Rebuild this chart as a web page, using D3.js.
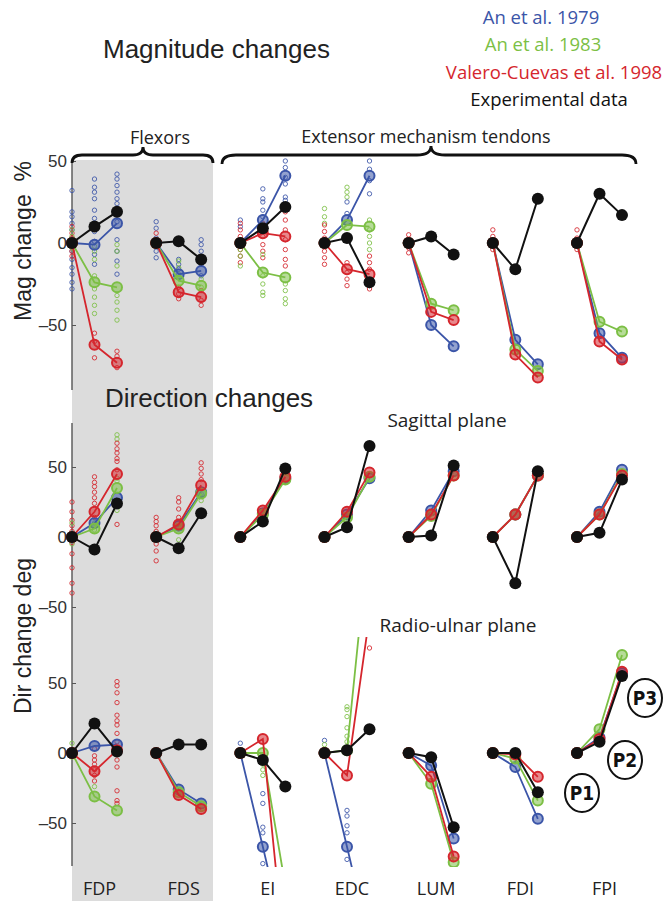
<!DOCTYPE html>
<html>
<head>
<meta charset="utf-8">
<script src="https://cdn.jsdelivr.net/npm/d3@7"></script>
<style>
  body { margin: 0; background: #fff; }
  svg { display: block; }
</style>
</head>
<body>
<svg id="chart" width="663" height="901"></svg>
<script>
// ---- data ----
const muscles = ["FDP", "FDS", "EI", "EDC", "LUM", "FDI", "FPI"];
const positions = ["P1", "P2", "P3"];
const seriesNames = ["An et al. 1979", "An et al. 1983", "Valero-Cuevas et al. 1998", "Experimental data"];
const tickValues = [-50, 0, 50];

// magnitude change (%) at P2, P3 (P1 is the reference = 0)
const magAn1979 = [[-1, 12], [-19, -17], [14, 41], [14, 41], [-50, -63], [-59, -74], [-55, -70]];
const magAn1983 = [[-24, -27], [-23, -26], [-18, -21], [11, 10], [-37, -41], [-65, -78], [-48, -54]];
const magValero = [[-62, -73], [-30, -33], [6, 4], [-16, -19], [-42, -47], [-68, -82], [-60, -71]];
const magExp = [[10, 19], [1, -10], [9, 22], [3, -24], [4, -7], [-16, 27], [30, 17]];

// direction change, sagittal plane (deg)
const sagAn1979 = [[10, 28], [8, 32], [17, 42], [16, 42], [19, 47], [16, 44], [18, 48]];
const sagAn1983 = [[6, 35], [6, 31], [16, 41], [14, 43], [15, 44], [16, 44], [16, 45]];
const sagValero = [[18, 45], [9, 37], [19, 43], [18, 46], [16, 44], [16, 44], [16, 44]];
const sagExp = [[-9, 24], [-8, 17], [11, 49], [7, 65], [1, 51], [-33, 47], [3, 41]];

// direction change, radio-ulnar plane (deg)
const ruAn1979 = [[5, 6], [-26, -36], [-67, -135], [-67, -135], [-9, -61], [-10, -47], [11, 57]];
const ruAn1983 = [[-31, -41], [-28, -38], [0, -95], [2, 160], [-22, -78], [-4, -34], [17, 70]];
const ruValero = [[-13, 2], [-30, -40], [10, -150], [-16, 98], [-17, -74], [-1, -17], [10, 58]];
const ruExp = [[21, 1], [6, 6], [-5, -24], [2, 17], [-3, -53], [0, -28], [8, 55]];

// individual model results: [muscle, position, series, values]
const magScatter = [
  [0, 0, 0, [32, 19, 16, 12, 8, -5, -10, -15, -19, -24, -28]], [0, 0, 2, [10, 6, 3, -2, -5, -8]], [0, 0, 1, [8, 4, -3]],
  [0, 1, 0, [39, 34, 31, 27, 20, 15, 7, 1, -7, -13]], [0, 1, 1, [-2, -5, -10, -20, -28, -33, -38, -43]], [0, 1, 2, [-55, -60, -70]],
  [0, 2, 0, [42, 39, 35, 31, 27, 24, 20, 13, 2, -5, -11, -19]], [0, 2, 1, [-1, -5, -14, -32, -36, -41, -47]], [0, 2, 2, [-66, -69, -76]],
  [1, 0, 0, [13, 9, 3, -5, -9]], [1, 0, 2, [6, 2, -2]],
  [1, 1, 0, [-10, -13, -16]], [1, 1, 1, [-11, -15, -19]], [1, 1, 2, [-27, -31, -34]],
  [1, 2, 0, [2, -1, -5, -9, -13, -20]], [1, 2, 1, [-22, -27]], [1, 2, 2, [-29, -35, -38]],
  [2, 0, 0, [14, 10]], [2, 0, 2, [12, 8, 4, 0, -4, -8, -12]], [2, 0, 1, [-4, -8, -14]],
  [2, 1, 0, [33, 27, 25, 20, 16]], [2, 1, 2, [12, 8, 4, -1, -5, -9]], [2, 1, 1, [-7, -20, -25, -30, -32]],
  [2, 2, 0, [50, 46, 40, 36, 28, 26]], [2, 2, 2, [19, 14, 8, 2, -4, -10, -14]], [2, 2, 1, [-25, -29, -34, -37]],
  [3, 0, 1, [21, 16, 12]], [3, 0, 2, [11, 7, 3, -1, -5, -9, -13]],
  [3, 1, 1, [34, 31, 28]], [3, 1, 0, [25, 18]], [3, 1, 2, [-12, -18, -22, -26]],
  [3, 2, 0, [50, 45, 38, 30]], [3, 2, 1, [14, 8, 4, 0, -4]], [3, 2, 2, [-8, -12, -16, -26, -28]],
  [4, 0, 2, [5, -3, -6]], [5, 0, 2, [8, 4, -4]], [6, 0, 2, [8, 3, -4]]
];
const sagScatter = [
  [0, 0, 2, [25, 18, 12, 8, 4, -4, -12, -22, -33, -40]], [0, 0, 1, [10, -5]],
  [0, 1, 2, [43, 39, 36, 32, 28, 24, 14]], [0, 1, 1, [10, 5]],
  [0, 2, 1, [73, 70, 42, 40, 19]], [0, 2, 2, [67, 63, 60, 56, 54, 48, 9]],
  [1, 0, 2, [14, 11, 8, 4, -5, -10, -17]], [1, 1, 2, [28, 25, 20, 14]], [1, 1, 1, [-2]],
  [1, 2, 2, [53, 49, 45, 41]], [1, 2, 1, [31, 26]]
];
const ruScatter = [
  [0, 0, 1, [7, -3]], [0, 1, 2, [3, -2, -5, -8, -12, -16, -20]], [0, 1, 1, [-24]],
  [0, 2, 2, [51, 48, 43, 36, 27, 23, 20, 14, 8, -1, -5, -10, -27, -34, -36]],
  [2, 0, 0, [7]], [2, 1, 0, [-29, -36, -53, -57, -79]], [2, 1, 1, [-8, -12, -16]],
  [3, 0, 0, [9]], [3, 0, 1, [6]], [3, 1, 1, [33, 31, 26, 18, 12, 8]],
  [3, 1, 0, [-41, -45, -52, -57, -76]], [3, 2, 2, [75]]
];

// ---- layout ----
const colors = ["#3b55a8", "#7cbf45", "#d5262d", "#111111"];
const sans = "'Open Sans', sans-serif";
const helv = "'Liberation Sans', Arial, sans-serif";

const svg = d3.select('#chart');

const xMuscle = d3.scalePoint().domain(muscles).range([72, 577]);
const xStep = d3.scalePoint().domain(positions).range([0, 45]);
const px = (m, p) => xMuscle(muscles[m]) + xStep(positions[p]);

// grey band behind the flexors
svg.append('rect')
    .attr('x', 72).attr('y', 160)
    .attr('width', 141).attr('height', 741)
    .attr('fill', '#dcdcdc');

const panels = [
    { id: 'mag', y: d3.scaleLinear().domain([-50, 50]).range([325, 161]),
      series: [magAn1979, magAn1983, magValero, magExp], scatter: magScatter,
      axis: [160, 390], clip: [140, 400] },
    { id: 'sag', y: d3.scaleLinear().domain([-50, 50]).range([607, 467]),
      series: [sagAn1979, sagAn1983, sagValero, sagExp], scatter: sagScatter,
      axis: [423, 621], clip: [420, 625] },
    { id: 'ru', y: d3.scaleLinear().domain([-50, 50]).range([823, 683]),
      series: [ruAn1979, ruAn1983, ruValero, ruExp], scatter: ruScatter,
      axis: [621, 866], clip: [637, 867] }
];

const defs = svg.append('defs');

panels.forEach(panel => {
    const y = panel.y;
    const g = svg.append('g').attr('class', panel.id);

    // y axis
    g.append('line')
        .attr('x1', 72).attr('x2', 72)
        .attr('y1', panel.axis[0]).attr('y2', panel.axis[1])
        .attr('stroke', '#555').attr('stroke-width', 1.4);

    const axis = d3.axisLeft(y)
        .tickValues(tickValues)
        .tickSizeInner(-4).tickSizeOuter(0).tickPadding(5)
        .tickFormat(d => d < 0 ? '\u2013' + Math.abs(d) : d);
    const ax = g.append('g').attr('transform', 'translate(72,0)').call(axis);
    ax.select('.domain').remove();
    ax.selectAll('line').attr('stroke', '#555');
    ax.selectAll('text')
        .attr('font-family', helv).attr('font-size', 17).attr('fill', '#333');

    defs.append('clipPath').attr('id', 'clip-' + panel.id)
        .append('rect')
        .attr('x', 0).attr('width', 663)
        .attr('y', panel.clip[0]).attr('height', panel.clip[1] - panel.clip[0]);

    const plot = g.append('g').attr('clip-path', 'url(#clip-' + panel.id + ')');

    // individual results as small open circles
    panel.scatter.forEach(([m, p, s, vals]) => {
        plot.selectAll(null)
            .data(vals)
            .enter().append('circle')
            .attr('cx', px(m, p))
            .attr('cy', d => y(d))
            .attr('r', 2.2)
            .attr('fill', 'none')
            .attr('stroke', colors[s])
            .attr('stroke-width', 1)
            .attr('opacity', 0.85);
    });

    const line = d3.line().x(d => d[0]).y(d => d[1]);

    panel.series.forEach((vals, s) => {
        vals.forEach((v, m) => {
            const pts = [0].concat(v).map((val, p) => [px(m, p), y(val)]);
            plot.append('path')
                .attr('d', line(pts))
                .attr('fill', 'none')
                .attr('stroke', colors[s])
                .attr('stroke-width', s === 3 ? 2 : 1.8);
            plot.selectAll(null)
                .data(pts)
                .enter().append('circle')
                .attr('cx', d => d[0])
                .attr('cy', d => d[1])
                .attr('r', s === 3 ? 6 : 5)
                .attr('fill', colors[s])
                .attr('fill-opacity', s === 3 ? 1 : 0.55)
                .attr('stroke', colors[s])
                .attr('stroke-width', s === 3 ? 0 : 2);
        });
    });
});

// ---- text ----
svg.append('text')
    .attr('x', 103).attr('y', 58)
    .attr('font-family', helv).attr('font-size', 26).attr('fill', '#222')
    .text('Magnitude changes');
svg.append('text')
    .attr('x', 105).attr('y', 407)
    .attr('font-family', helv).attr('font-size', 26).attr('fill', '#222')
    .text('Direction changes');

svg.append('text')
    .attr('transform', 'translate(31,241) rotate(-90)')
    .attr('text-anchor', 'middle')
    .attr('font-family', helv).attr('font-size', 23).attr('fill', '#222')
    .text('Mag change\u00a0\u00a0%');
svg.append('text')
    .attr('transform', 'translate(31,636) rotate(-90)')
    .attr('text-anchor', 'middle')
    .attr('font-family', helv).attr('font-size', 23).attr('fill', '#222')
    .text('Dir change deg');

// legend
const legendX = [541, 543, 554, 549];
const legendY = [24, 51, 79, 106];
svg.selectAll('.legend')
    .data(seriesNames)
    .enter().append('text')
    .attr('class', 'legend')
    .attr('x', (d, i) => legendX[i])
    .attr('y', (d, i) => legendY[i])
    .attr('text-anchor', 'middle')
    .attr('font-family', sans).attr('font-size', 18.5)
    .attr('fill', (d, i) => colors[i])
    .text(d => d);

// plane titles
svg.append('text').attr('x', 447).attr('y', 427).attr('text-anchor', 'middle')
    .attr('font-family', sans).attr('font-size', 19).attr('fill', '#222')
    .text('Sagittal plane');
svg.append('text').attr('x', 458).attr('y', 632).attr('text-anchor', 'middle')
    .attr('font-family', sans).attr('font-size', 19).attr('fill', '#222')
    .text('Radio-ulnar plane');

// muscle names along the bottom
svg.selectAll('.muscle')
    .data(muscles)
    .enter().append('text')
    .attr('class', 'muscle')
    .attr('x', d => xMuscle(d) + xStep('P2') + 5)
    .attr('y', 895)
    .attr('text-anchor', 'middle')
    .attr('font-family', sans).attr('font-size', 18).attr('fill', '#222')
    .text(d => d);

// braces
function brace(x1, x2, xm, y, h, q) {
    return `M${x1},${y + h} Q${x1},${y} ${x1 + q},${y} L${xm - q},${y} Q${xm},${y} ${xm},${y - h} ` +
           `Q${xm},${y} ${xm + q},${y} L${x2 - q},${y} Q${x2},${y} ${x2},${y + h}`;
}
svg.append('path').attr('d', brace(72, 213, 143, 155, 8, 10))
    .attr('fill', 'none').attr('stroke', '#111').attr('stroke-width', 2.8);
svg.append('path').attr('d', brace(222, 636, 431, 155, 9, 14))
    .attr('fill', 'none').attr('stroke', '#111').attr('stroke-width', 2.8);
svg.append('text').attr('x', 160).attr('y', 144).attr('text-anchor', 'middle')
    .attr('font-family', sans).attr('font-size', 18).attr('fill', '#222')
    .text('Flexors');
svg.append('text').attr('x', 426).attr('y', 143).attr('text-anchor', 'middle')
    .attr('font-family', sans).attr('font-size', 18).attr('fill', '#222')
    .text('Extensor mechanism tendons');

// position markers
const pMarks = [[582, 793], [625, 760], [645, 698]];
const pg = svg.selectAll('.pmark')
    .data(positions)
    .enter().append('g')
    .attr('class', 'pmark')
    .attr('transform', (d, i) => `translate(${pMarks[i][0]},${pMarks[i][1]})`);
pg.append('ellipse').attr('rx', 17).attr('ry', 19)
    .attr('fill', '#fff').attr('stroke', '#111').attr('stroke-width', 2);
pg.append('text')
    .attr('text-anchor', 'middle').attr('dy', '0.36em')
    .attr('font-family', "'Liberation Sans Narrow', 'DejaVu Sans Condensed', sans-serif")
    .attr('font-weight', 'bold').attr('font-size', 19).attr('fill', '#111')
    .text(d => d);
</script>
</body>
</html>
